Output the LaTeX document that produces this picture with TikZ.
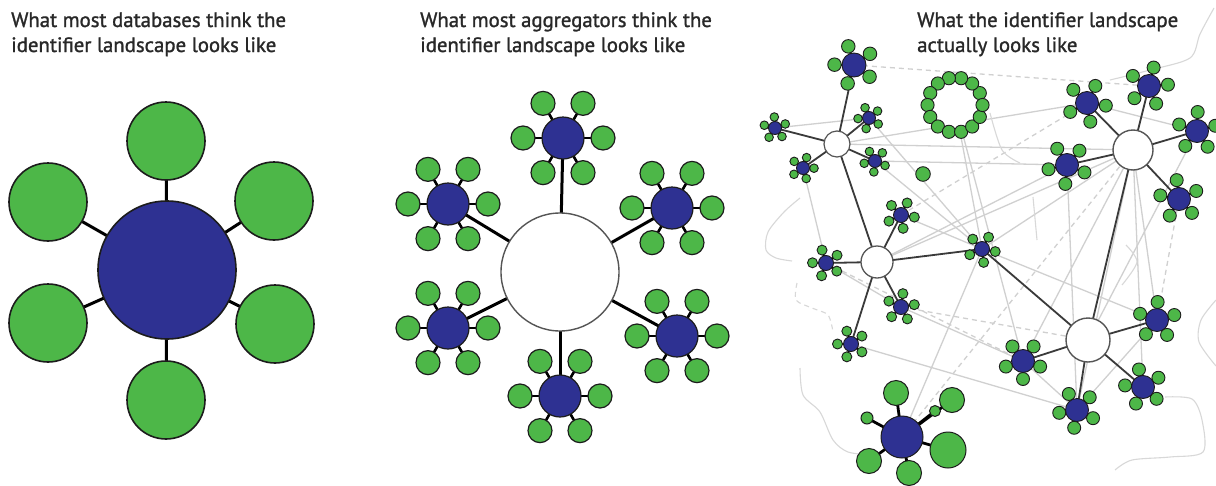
\documentclass[tikz,border=0pt]{standalone}
\usepackage{fontspec}
\setmainfont{PT Sans}
\newfontfamily\captionface{PT Sans}[FakeBold=1.3]
\usetikzlibrary{calc}

\definecolor{hubblue}{HTML}{2E3192}
\definecolor{leafgreen}{HTML}{4DB748}
\definecolor{rim}{HTML}{1C1C1C}
\definecolor{webgray}{HTML}{D0D0D0}
\definecolor{wavegray}{HTML}{D8D8D8}
\definecolor{linkgray}{HTML}{3A3A3A}
\definecolor{captiongray}{HTML}{282828}

\pgfdeclarelayer{paper}
\pgfdeclarelayer{web}
\pgfdeclarelayer{links}
\pgfsetlayers{paper,web,links,main}

\tikzset{
  dot/.style={circle, inner sep=0pt, outer sep=0pt, draw=rim},
  leaf/.style={dot, fill=leafgreen, line width=1pt},
  hub/.style={dot, fill=hubblue, line width=1pt},
  pool/.style={dot, fill=white, draw=rim!75, line width=1.4pt},
  caption/.style={anchor=base west, inner sep=0pt, text=captiongray,
    font=\captionface\fontsize{20.8}{24}\selectfont},
  stub/.style={line width=2.6pt, black},
  spoke/.style={line width=3pt, black},
  link/.style={line width=1.8pt, linkgray},
  web/.style={line width=1.3pt, webgray},
  webdash/.style={web, dash pattern=on 5pt off 4pt},
  wave/.style={line width=1.1pt, wavegray},
}

% A blue hub surrounded by its green leaves.
% #1 name, #2 x, #3 y, #4 leaf count, #5 first leaf angle,
% #6 leaf distance, #7 hub diameter, #8 leaf diameter
\newcommand\hubring[8]{%
  \foreach \k in {1,...,#4}{%
    \pgfmathsetmacro\leafang{-(#5+360/#4*(\k-1))}%
    \node[leaf, minimum size=#8] (#1-\k) at ($(#2,#3)+(\leafang:#6)$) {};
  }%
  \node[hub, minimum size=#7] (#1) at (#2,#3) {};
  \begin{pgfonlayer}{links}
    \foreach \k in {1,...,#4}{\draw[stub] (#1.center) -- (#1-\k.center);}
  \end{pgfonlayer}%
}

\begin{document}
\begin{tikzpicture}[x=1pt, y=-1pt]
\begin{pgfonlayer}{paper}
  \fill[white] (0,0) rectangle (1216,485);
\end{pgfonlayer}
\useasboundingbox (0,0) rectangle (1216,485);

% ---------- captions ----------
\node[caption] (cap1a) at (11,27) {What most databases think the};
\node[caption] (cap1b) at (11,52) {identifier landscape looks like};
\node[caption] (cap2a) at (420,27) {What most aggregators think the};
\node[caption] (cap2b) at (420,52) {identifier landscape looks like};
\node[caption] (cap3a) at (917,27) {What the identifier landscape};
\node[caption] (cap3b) at (917,52) {actually looks like};

% ---------- single database ----------
\begin{scope}[leaf/.append style={line width=1.6pt}, hub/.append style={line width=1.6pt}]
  \node[leaf, minimum size=78] (db-t)  at (166,141) {};
  \node[leaf, minimum size=78] (db-tr) at (274,201) {};
  \node[leaf, minimum size=78] (db-br) at (275,324) {};
  \node[leaf, minimum size=78] (db-b)  at (166,400) {};
  \node[leaf, minimum size=78] (db-bl) at (48,323) {};
  \node[leaf, minimum size=78] (db-tl) at (48,202) {};
  \node[hub, minimum size=138] (db) at (167,270) {};
\end{scope}
\begin{pgfonlayer}{links}
  \foreach \n in {t,tr,br,b,bl,tl} \draw[spoke] (db.center) -- (db-\n.center);
\end{pgfonlayer}

% ---------- aggregator ----------
\node[pool, minimum size=118] (agg) at (560,272) {};
\begin{scope}[leaf/.append style={line width=1.2pt}, hub/.append style={line width=1.2pt}]
  \hubring{ag1}{563}{138}{6}{0}{40}{42}{24}
  \hubring{ag2}{672}{208}{6}{0}{40}{42}{24}
  \hubring{ag3}{677}{336}{6}{0}{40}{42}{24}
  \hubring{ag4}{560}{396}{6}{0}{40}{42}{24}
  \hubring{ag5}{448}{328}{6}{0}{40}{42}{24}
  \hubring{ag6}{448}{204}{6}{0}{40}{42}{24}
\end{scope}
\begin{pgfonlayer}{links}
  \foreach \i in {1,...,6} \draw[spoke] (agg.center) -- (ag\i.center);
\end{pgfonlayer}

% ---------- the real landscape ----------
\node[pool, minimum size=26, line width=1.2pt] (W1) at (837,144) {};
\node[pool, minimum size=32, line width=1.3pt] (W2) at (877,262) {};
\node[pool, minimum size=44] (W3) at (1088,340) {};
\node[pool, minimum size=40] (W4) at (1133,150) {};

\begin{scope}[stub/.style={line width=2pt, black},
              leaf/.append style={line width=0.9pt}, hub/.append style={line width=0.9pt}]
  % hubs around W1
  \hubring{A}{854}{65}{5}{35}{19.5}{24}{13.5}
  \hubring{B}{775}{128}{5}{21.5}{11}{13}{8.6}
  \hubring{C}{869}{118}{5}{-105}{11}{13}{8.6}
  \hubring{D}{803}{168}{5}{71}{11}{13}{8.6}
  \hubring{E}{875}{161}{5}{192}{11}{13}{8.6}
  % hubs around W2
  \hubring{F}{901}{215}{5}{-81}{13.5}{15}{10}
  \hubring{G}{826}{263}{5}{35}{13.5}{15}{10}
  \hubring{H}{901}{307}{5}{154}{13.5}{15}{10}
  \hubring{I}{851}{344}{5}{108}{13.5}{15}{10}
  \hubring{J}{982}{249}{5}{-11}{13.5}{15}{10}
  % hubs around W4
  \hubring{K}{1087}{103}{5}{-8}{19}{23}{13}
  \hubring{L}{1149}{86}{5}{-68}{19}{23}{13}
  \hubring{M}{1197}{131}{5}{-128}{19}{23}{13}
  \hubring{N}{1067}{165}{5}{49}{19}{23}{13}
  \hubring{O}{1179}{199}{5}{169}{19}{23}{13}
  % hubs around W3
  \hubring{P}{1157}{320}{5}{232}{18}{23}{13}
  \hubring{Q}{1023}{361}{5}{54}{18}{23}{13}
  \hubring{R}{1077}{410}{5}{117}{18}{23}{13}
  \hubring{S}{1143}{387}{5}{175}{18}{23}{13}
\end{scope}

% closed ring of leaves
\node[circle, fill=white, inner sep=0pt, minimum size=44] (ring) at (955,105) {};
\foreach \k in {1,...,14}
  \node[leaf, minimum size=13.2, line width=0.9pt] (ring-\k) at ($(ring)+({-360/14*\k}:27.5)$) {};

% lone leaf
\node[leaf, minimum size=14.6, line width=0.9pt] (solo) at (923,174) {};

% large standalone hub
\node[leaf, minimum size=25] (T-1) at (896,393) {};
\node[leaf, minimum size=25] (T-2) at (952,400) {};
\node[leaf, minimum size=11] (T-3) at (935,411) {};
\node[leaf, minimum size=12] (T-4) at (867,418) {};
\node[leaf, minimum size=36] (T-5) at (948,450) {};
\node[leaf, minimum size=25] (T-6) at (869,461) {};
\node[leaf, minimum size=25] (T-7) at (909,473) {};
\node[hub, minimum size=42] (T) at (902,437) {};
\begin{pgfonlayer}{links}
  \foreach \k in {1,...,7} \draw[line width=2.8pt, black] (T.center) -- (T-\k.center);
\end{pgfonlayer}

% dark connectors
\begin{pgfonlayer}{links}
  \foreach \a/\b in {A/W1,B/W1,C/W1,D/W1,E/W1,W1/W2,F/W2,G/W2,H/W2,I/W2,W2/J,J/W3,
                     W3/W4,K/W4,L/W4,M/W4,N/W4,O/W4,P/W3,Q/W3,R/W3,S/W3}
    \draw[link] (\a.center) -- (\b.center);
\end{pgfonlayer}

% faint background web
\begin{pgfonlayer}{web}
  \foreach \a/\b in {W1/W4,B/C,E/N,E/J,W1/K,ring/J,ring/Q,D/G,J/T,J/P,J/W4,G/H,H/Q,
                     I/R,W2/N,W4/Q,W4/R,N/R,M/W3,F/J,W2/W4,Q/R,P/R,K/M,W4/P,W4/S,C/J}
    \draw[web] (\a.center) -- (\b.center);
  \foreach \a/\b in {A/L,F/K,T/W4,O/P,G/Q,H/W3}
    \draw[webdash] (\a.center) -- (\b.center);
  \draw[wave] plot[smooth] coordinates {(800,198) (784,212) (768,232) (766,250) (776,258) (792,261)};
  \draw[wave, dash pattern=on 5pt off 4pt] plot[smooth] coordinates {(797,283) (796,300) (812,308) (828,315) (833,332)};
  \draw[wave] plot[smooth] coordinates {(800,368) (803,395) (820,412) (833,440) (848,452) (872,455)};
  \draw[wave] plot[smooth] coordinates {(1165,397) (1192,399) (1202,420) (1203,452) (1170,457) (1132,460) (1115,470)};
  \draw[wave] plot[smooth] coordinates {(1216,300) (1201,320) (1199,342) (1216,366)};
  \draw[wave] plot[smooth] coordinates {(1214,8) (1200,34) (1190,58) (1150,70) (1110,80)};
  \draw[wave] plot[smooth] coordinates {(1126,245) (1137,262) (1122,285)};
  \draw[wave] plot[smooth] coordinates {(990,113) (1002,150) (1020,163)};
  \draw[wave] plot[smooth] coordinates {(1033,197) (1037,240)};
\end{pgfonlayer}
\end{tikzpicture}
\end{document}
